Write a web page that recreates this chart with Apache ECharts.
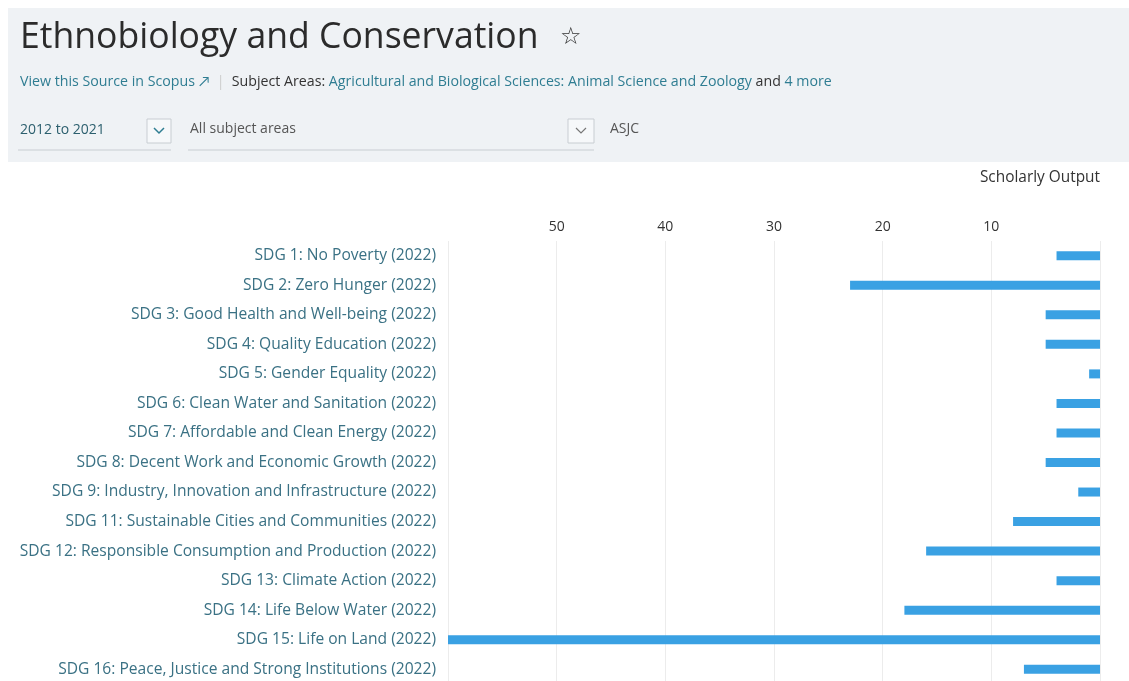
<!DOCTYPE html>
<html>
<head>
<meta charset="utf-8">
<style>
    html, body { margin: 0; padding: 0; background: #fff; }
    #main { width: 1129px; height: 681px; }
</style>
<script src="https://cdn.jsdelivr.net/npm/echarts@6/dist/echarts.min.js"></script>
</head>
<body>
<div id="main"></div>
<script>
    // SDG categories and scholarly output values
    var categories = [
        'SDG 1: No Poverty (2022)',
        'SDG 2: Zero Hunger (2022)',
        'SDG 3: Good Health and Well-being (2022)',
        'SDG 4: Quality Education (2022)',
        'SDG 5: Gender Equality (2022)',
        'SDG 6: Clean Water and Sanitation (2022)',
        'SDG 7: Affordable and Clean Energy (2022)',
        'SDG 8: Decent Work and Economic Growth (2022)',
        'SDG 9: Industry, Innovation and Infrastructure (2022)',
        'SDG 11: Sustainable Cities and Communities (2022)',
        'SDG 12: Responsible Consumption and Production (2022)',
        'SDG 13: Climate Action (2022)',
        'SDG 14: Life Below Water (2022)',
        'SDG 15: Life on Land (2022)',
        'SDG 16: Peace, Justice and Strong Institutions (2022)'
    ];
    var outputValues = [4, 23, 5, 5, 1, 4, 4, 5, 2, 8, 16, 4, 18, 60, 7];
    var tickLabels = ['', '10', '20', '30', '40', '50', ''];

    var font = '"Open Sans", Lato, sans-serif',
        linkColor = '#2f7d92',
        darkText = '#333';

    var chart = echarts.init(document.getElementById('main'));

    var option = {
        backgroundColor: '#fff',
        animation: false,
        graphic: [
            // 头部面板
            { type: 'rect', shape: { x: 8, y: 8, width: 1121, height: 154 }, style: { fill: '#eff2f5' }, silent: true },
            { type: 'text', x: 20, y: 38, style: { text: 'Ethnobiology and Conservation', font: '35.6px ' + font, fill: '#2b2b2b', verticalAlign: 'middle' } },
            { type: 'text', x: 560, y: 38, style: { text: '☆', font: '24px "DejaVu Sans", sans-serif', fill: '#333', verticalAlign: 'middle' } },
            {
                type: 'text', x: 20, y: 82,
                style: {
                    text: '{a|View this Source in Scopus ↗}{s|  |  }{b|Subject Areas: }{a|Agricultural and Biological Sciences: Animal Science and Zoology}{b| and }{a|4 more}',
                    verticalAlign: 'middle',
                    rich: {
                        a: { font: '14.2px ' + font, fill: linkColor },
                        b: { font: '14.2px ' + font, fill: darkText },
                        s: { font: '14.2px ' + font, fill: '#ccc' }
                    }
                }
            },
            // 年份下拉
            { type: 'text', x: 20, y: 130, style: { text: '2012 to 2021', font: '14px ' + font, fill: '#2c5f6e', verticalAlign: 'middle' } },
            { type: 'rect', shape: { x: 147, y: 119, width: 24, height: 24 }, style: { fill: '#f6f8fa', stroke: '#c8cdd2', lineWidth: 1 } },
            { type: 'polyline', shape: { points: [[154, 128], [159, 133], [164, 128]] }, style: { stroke: '#2f7d92', lineWidth: 1.5, fill: null } },
            { type: 'line', shape: { x1: 18, y1: 150, x2: 171, y2: 150 }, style: { stroke: '#c8cdd2', lineWidth: 1 } },
            // 学科下拉
            { type: 'text', x: 190, y: 129, style: { text: 'All subject areas', font: '14px ' + font, fill: '#555', verticalAlign: 'middle' } },
            { type: 'rect', shape: { x: 568, y: 119, width: 26, height: 24 }, style: { fill: '#f6f8fa', stroke: '#c8cdd2', lineWidth: 1 } },
            { type: 'polyline', shape: { points: [[576, 128], [581, 133], [586, 128]] }, style: { stroke: '#777', lineWidth: 1.2, fill: null } },
            { type: 'line', shape: { x1: 188, y1: 150, x2: 594, y2: 150 }, style: { stroke: '#c8cdd2', lineWidth: 1 } },
            { type: 'text', x: 610, y: 129, style: { text: 'ASJC', font: '14px ' + font, fill: '#555', verticalAlign: 'middle' } },
            // 轴名称
            { type: 'text', x: 1100, y: 178, style: { text: 'Scholarly Output', font: '15.4px ' + font, fill: darkText, align: 'right', verticalAlign: 'middle' } }
        ],
        grid: {
            left: 448,
            right: 29,
            top: 241,
            height: 443,
            outerBoundsMode: 'none'
        },
        xAxis: {
            type: 'value',
            inverse: true,
            position: 'top',
            min: 0,
            max: 60,
            interval: 10,
            axisLine: { show: false },
            axisTick: { show: false },
            axisLabel: {
                margin: 7,
                color: darkText,
                fontSize: 14,
                fontFamily: font,
                formatter: function (v) {
                    return tickLabels[v / 10];
                }
            },
            splitLine: { lineStyle: { color: '#ececec', width: 1 } }
        },
        yAxis: {
            type: 'category',
            inverse: true,
            position: 'left',
            data: categories,
            axisLine: { show: false, onZero: false },
            axisTick: { show: false },
            axisLabel: {
                margin: 12,
                color: '#3a7184',
                fontSize: 15.6,
                fontFamily: font
            }
        },
        series: [{
            type: 'bar',
            data: outputValues,
            barWidth: 9,
            itemStyle: { color: '#3aa1e3' }
        }]
    };

    chart.setOption(option);
</script>
</body>
</html>
